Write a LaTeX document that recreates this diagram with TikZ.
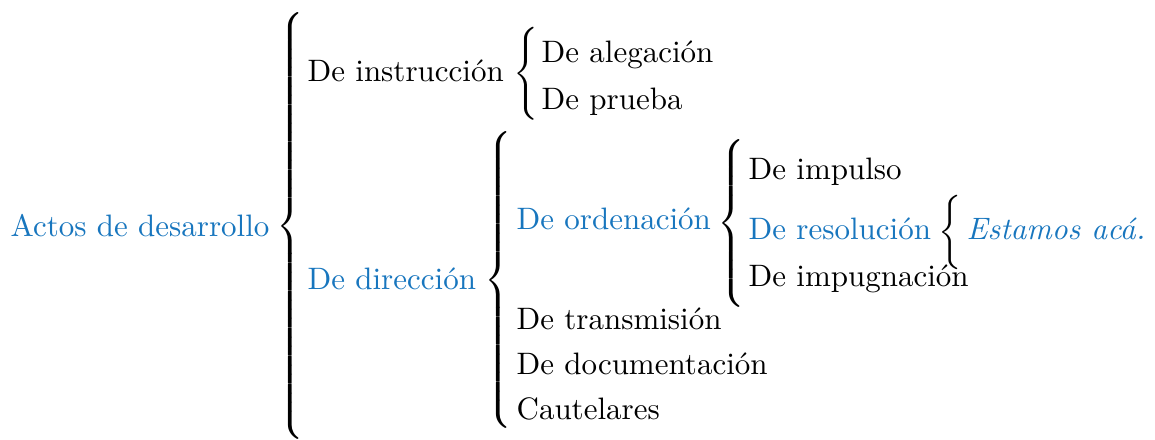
\documentclass[tikz,border=0pt]{standalone}
\usepackage{fontspec}
\definecolor{azul}{RGB}{24,118,190}
\newcommand{\llaves}[1]{{\delimitershortfall=0pt\delimiterfactor=1000
  $\left\{\vcenter{\hrule height #1 width 0pt}\right.$}}
\begin{document}
\begin{tikzpicture}[x=0.3226pt, y=-0.3226pt]
        \tikzstyle{item}=[anchor=base west, inner sep=0pt]
        \tikzstyle{hot}=[item, text=azul]
        \tikzstyle{brace}=[inner sep=0pt, anchor=center]
        \useasboundingbox (0,0) rectangle (1155,440);

        % first level
        \node[hot](actos) at (10,237){Actos de desarrollo};
        \node[brace](b0) at (292,226){\llaves{134pt}};
        \node[item](instr) at (307,82){De instrucción};
        \node[hot](direc) at (307,290){De dirección};

        % de instruccion
        \node[brace](b1) at (528,74){\llaves{30pt}};
        \node[item](aleg) at (541,63){De alegación};
        \node[item](prueba) at (541,110){De prueba};

        % de direccion
        \node[brace](b2) at (500,280){\llaves{96pt}};
        \node[hot](orden) at (516,230){De ordenación};
        \node[item](trans) at (516,330){De transmisión};
        \node[item](docu) at (516,375){De documentación};
        \node[item](caut) at (516,420){Cautelares};

        % de ordenacion
        \node[brace](b3) at (733,223.5){\llaves{50pt}};
        \node[item](impul) at (748,180){De impulso};
        \node[hot](resol) at (748,240){De resolución};
        \node[item](impug) at (748,287){De impugnación};

        % de resolucion
        \node[brace](b4) at (952,232){\llaves{22pt}};
        \node[hot](aca) at (966,240){\itshape Estamos acá.};
\end{tikzpicture}
\end{document}
